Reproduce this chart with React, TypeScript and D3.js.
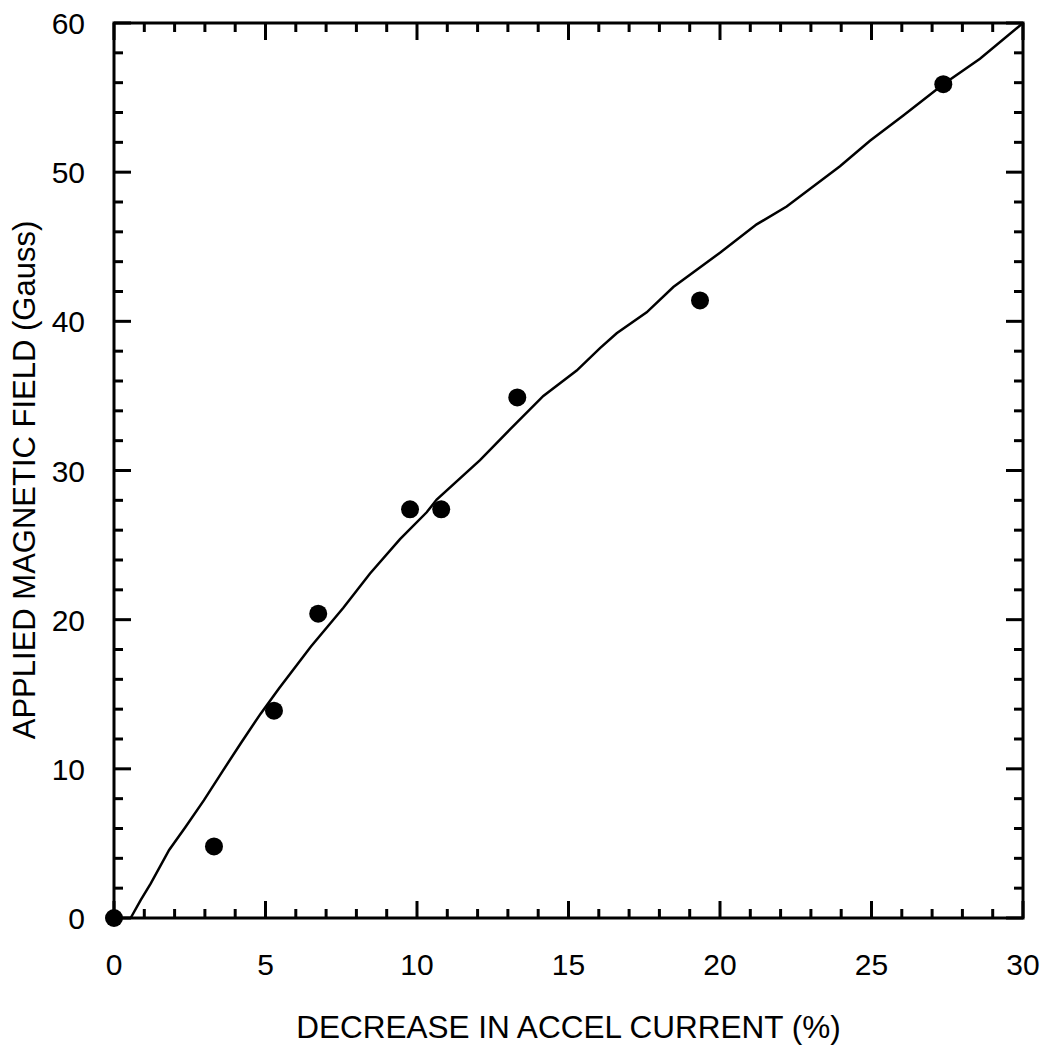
import * as d3 from "d3";

const width = 1042;
const height = 1046;
const margin = { left: 114, right: 19, top: 23, bottom: 128 };

// measured points (decrease %, field Gauss)
const pointX = [0, 3.3, 5.28, 6.74, 9.77, 10.8, 13.31, 19.34, 27.37];
const pointY = [0, 4.8, 13.9, 20.4, 27.4, 27.4, 34.9, 41.4, 55.9];

// fitted curve
const curveX = [0.55, 0.88, 1.21, 1.82, 2.36, 2.97, 3.57, 4.18, 4.84, 5.45, 6.5, 7.57, 8.45, 9.44, 10.32, 10.65, 12.08, 13.07, 14.17, 15.27, 16.04, 16.59, 17.58, 18.46, 20.0, 21.21, 22.2, 23.96, 24.95, 26.05, 27.37, 28.58, 30];
const curveY = [0, 1.2, 2.3, 4.56, 6.1, 7.9, 9.8, 11.7, 13.7, 15.4, 18.2, 20.8, 23.1, 25.4, 27.2, 28.05, 30.7, 32.75, 35.0, 36.7, 38.2, 39.2, 40.6, 42.3, 44.6, 46.5, 47.7, 50.4, 52.1, 53.8, 55.9, 57.6, 60];

const xMajor = [0, 5, 10, 15, 20, 25, 30];
const yMajor = [0, 10, 20, 30, 40, 50, 60];

const xLabel = "DECREASE IN ACCEL CURRENT (%)";
const yLabel = "APPLIED MAGNETIC FIELD (Gauss)";

const font = "Liberation Sans, Arial, sans-serif";

export default function App() {
  const x0 = margin.left;
  const x1 = width - margin.right;
  const y0 = height - margin.bottom;
  const y1 = margin.top;

  const x = d3.scaleLinear().domain([0, 30]).range([x0, x1]);
  const y = d3.scaleLinear().domain([0, 60]).range([y0, y1]);

  const xMinor = d3.range(0, 31, 1).filter((v) => v % 5 !== 0);
  const yMinor = d3.range(0, 61, 2).filter((v) => v % 10 !== 0);

  const path = d3
    .line<number>()
    .x((d, i) => x(curveX[i]))
    .y((d) => y(d))(curveY);

  const big = 17;
  const small = 9;

  return (
    <svg
      width={width}
      height={height}
      style={{ position: "absolute", left: 0, top: 0, background: "#fff" }}
    >
      <g stroke="#000" strokeWidth={3}>
        {xMajor.map((v) => (
          <g key={"xm" + v}>
            <line x1={x(v)} x2={x(v)} y1={y0} y2={y0 - big} />
            <line x1={x(v)} x2={x(v)} y1={y1} y2={y1 + big} />
          </g>
        ))}
        {xMinor.map((v) => (
          <g key={"xn" + v}>
            <line x1={x(v)} x2={x(v)} y1={y0} y2={y0 - small} />
            <line x1={x(v)} x2={x(v)} y1={y1} y2={y1 + small} />
          </g>
        ))}
        {yMajor.map((v) => (
          <g key={"ym" + v}>
            <line x1={x0} x2={x0 + big} y1={y(v)} y2={y(v)} />
            <line x1={x1} x2={x1 - big} y1={y(v)} y2={y(v)} />
          </g>
        ))}
        {yMinor.map((v) => (
          <g key={"yn" + v}>
            <line x1={x0} x2={x0 + small} y1={y(v)} y2={y(v)} />
            <line x1={x1} x2={x1 - small} y1={y(v)} y2={y(v)} />
          </g>
        ))}
      </g>
      <rect x={x0} y={y1} width={x1 - x0} height={y0 - y1} fill="none" stroke="#000" strokeWidth={3} />

      <path d={path ?? ""} fill="none" stroke="#000" strokeWidth={2.5} />

      {pointX.map((v, i) => (
        <circle key={i} cx={x(v)} cy={y(pointY[i])} r={9} fill="#000" />
      ))}

      <g fontFamily={font} fontSize={30} fill="#000">
        {xMajor.map((v) => (
          <text key={"xt" + v} x={x(v)} y={y0 + 57} textAnchor="middle">
            {v}
          </text>
        ))}
        {yMajor.map((v) => (
          <text key={"yt" + v} x={x0 - 29} y={y(v) + 11} textAnchor="end">
            {v}
          </text>
        ))}
      </g>
      <text
        x={(x0 + x1) / 2}
        y={1038}
        textAnchor="middle"
        fontFamily={font}
        fontSize={31.5}
      >
        {xLabel}
      </text>
      <text
        transform="translate(35,480) rotate(-90)"
        textAnchor="middle"
        fontFamily={font}
        fontSize={31}
      >
        {yLabel}
      </text>
    </svg>
  );
}
